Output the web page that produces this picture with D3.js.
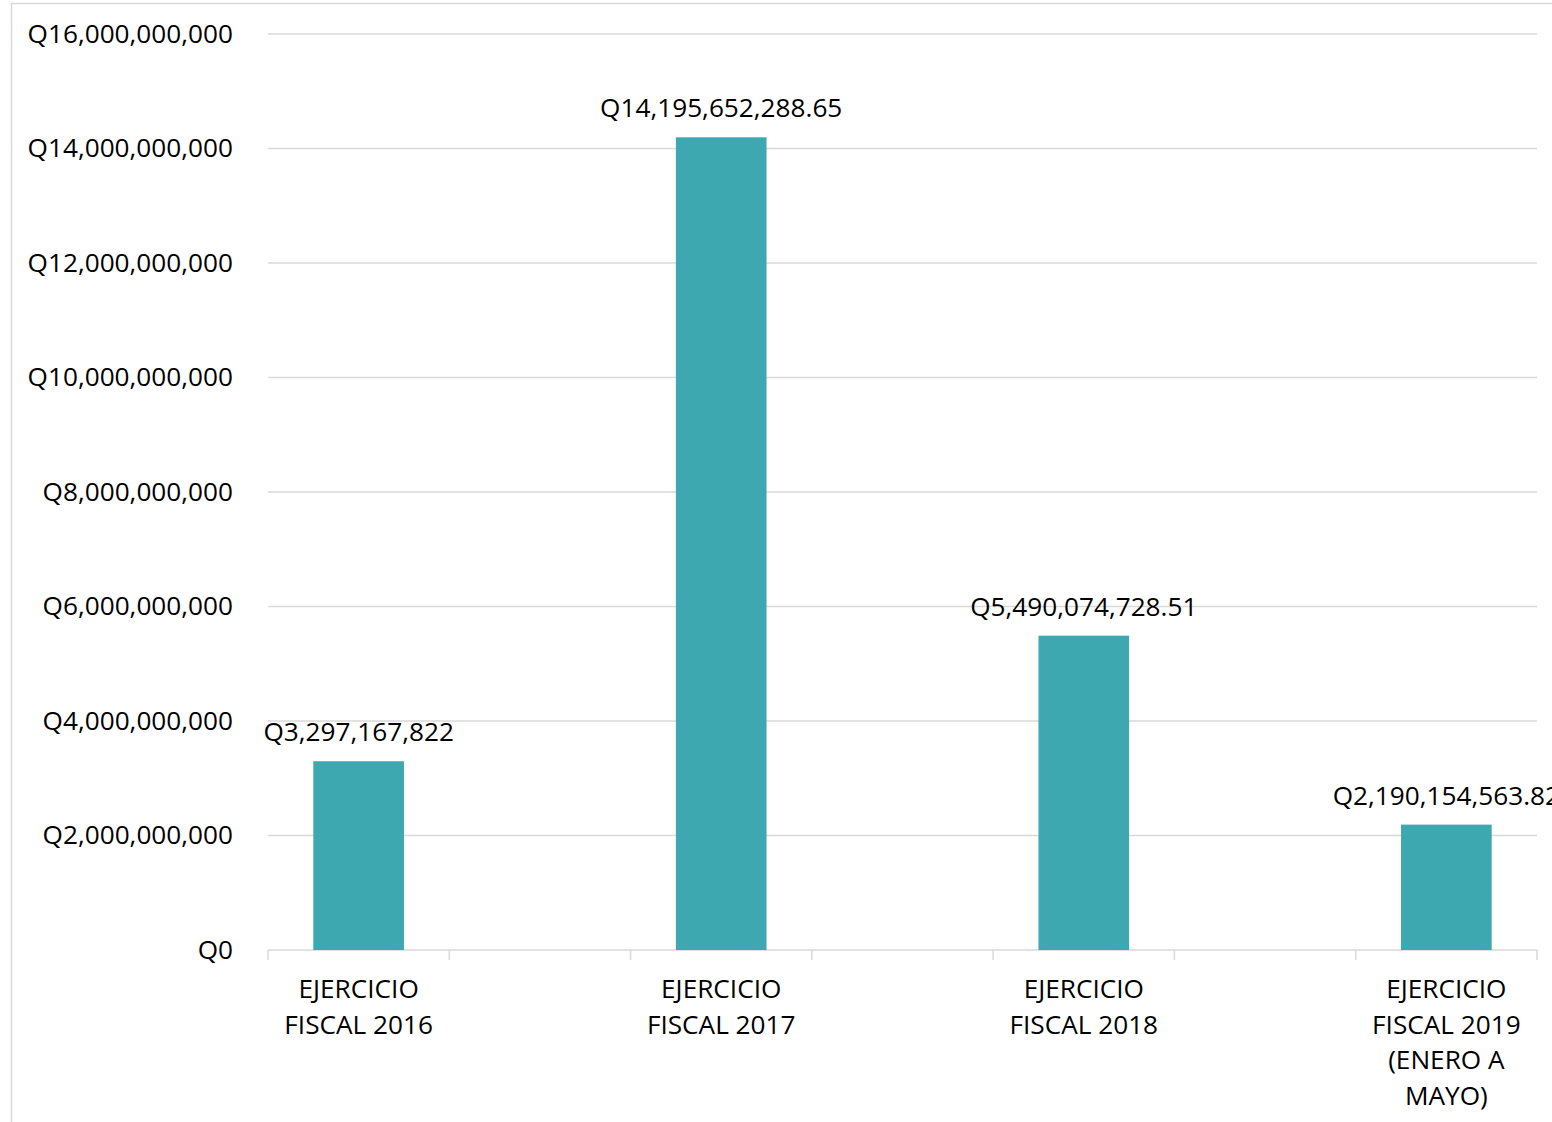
<!DOCTYPE html>
<html><head><meta charset="utf-8">
<script src="https://cdn.jsdelivr.net/npm/d3@7"></script>
<style>
html,body{margin:0;padding:0;background:#fff;overflow:hidden;}
svg{display:block;}
text{font-family:"Open Sans","Noto Sans",sans-serif;fill:#000;}
</style></head>
<body>
<svg id="chart" width="1552" height="1122"></svg>
<script>
// Data
const categories = ["EJERCICIO FISCAL 2016", "", "EJERCICIO FISCAL 2017", "", "EJERCICIO FISCAL 2018", "", "EJERCICIO FISCAL 2019 (ENERO A MAYO)"];
const values = [3297167822, null, 14195652288.65, null, 5490074728.51, null, 2190154563.82];
const valueLabels = ["Q3,297,167,822", "", "Q14,195,652,288.65", "", "Q5,490,074,728.51", "", "Q2,190,154,563.82"];
const yTicks = [0, 2e9, 4e9, 6e9, 8e9, 10e9, 12e9, 14e9, 16e9];

const svg = d3.select("#chart");
const W = 1552, H = 1122;
const m = {left: 268, right: 15, top: 34, bottom: 172};
const fs = 26.2;

// outer frame
svg.append("rect").attr("x", 11.5).attr("y", 3.5).attr("width", W + 10).attr("height", H + 10)
  .attr("fill", "none").attr("stroke", "#d9d9d9").attr("stroke-width", 1.5);

const x = d3.scaleBand().domain(d3.range(categories.length))
  .range([m.left, W - m.right]).paddingInner(0.5).paddingOuter(0.25);
const y = d3.scaleLinear().domain([0, 16e9]).range([H - m.bottom, m.top]);

const fmt = d => "Q" + d3.format(",")(d);

// gridlines
svg.append("g").selectAll("line").data(yTicks.slice(1)).join("line")
  .attr("x1", m.left).attr("x2", W - m.right)
  .attr("y1", d => y(d)).attr("y2", d => y(d))
  .attr("stroke", "#d9d9d9").attr("stroke-width", 1.5);

// y axis labels
const yAxis = d3.axisLeft(y).tickValues(yTicks).tickFormat(fmt).tickSize(0).tickPadding(35);
const gy = svg.append("g").attr("transform", `translate(${m.left},0)`).call(yAxis);
gy.select(".domain").remove();
gy.selectAll("text").style("font-size", fs + "px").attr("fill", "#000").attr("font-family", null);

// x axis line and ticks
const edges = d3.range(categories.length + 1).map(i => m.left + i * (W - m.right - m.left) / categories.length);
svg.append("line").attr("x1", m.left).attr("x2", W - m.right)
  .attr("y1", y(0)).attr("y2", y(0)).attr("stroke", "#d9d9d9").attr("stroke-width", 1.5);
svg.append("g").selectAll("line").data(edges).join("line")
  .attr("x1", d => d).attr("x2", d => d)
  .attr("y1", y(0)).attr("y2", y(0) + 10)
  .attr("stroke", "#d9d9d9").attr("stroke-width", 1.5);

// bars
const idx = d3.range(categories.length).filter(i => values[i] != null);
svg.append("g").selectAll("rect").data(idx).join("rect")
  .attr("x", i => x(i)).attr("width", x.bandwidth())
  .attr("y", i => y(values[i])).attr("height", i => y(0) - y(values[i]))
  .attr("fill", "#3ea8b1");

// value labels
svg.append("g").selectAll("text").data(idx).join("text")
  .attr("x", i => x(i) + x.bandwidth() / 2)
  .attr("y", i => y(values[i]) - 20)
  .attr("text-anchor", "middle").style("font-size", fs + "px")
  .text(i => valueLabels[i]);

// category labels with wrapping
const maxW = 178;
const meas = svg.append("text").style("font-size", fs + "px").attr("visibility", "hidden");
function wrap(str) {
  const words = str.split(" ");
  const lines = [];
  let cur = "";
  words.forEach(w => {
    const t = cur ? cur + " " + w : w;
    meas.text(t);
    if (meas.node().getComputedTextLength() > maxW && cur) { lines.push(cur); cur = w; }
    else cur = t;
  });
  if (cur) lines.push(cur);
  return lines;
}
const gx = svg.append("g");
idx.forEach(i => {
  const lines = wrap(categories[i]);
  const t = gx.append("text").attr("text-anchor", "middle").style("font-size", fs + "px")
    .attr("x", x(i) + x.bandwidth() / 2).attr("y", y(0) + 48);
  lines.forEach((l, k) => t.append("tspan").attr("x", x(i) + x.bandwidth() / 2).attr("dy", k === 0 ? 0 : 35.5).text(l));
});
meas.remove();
</script>
</body></html>
